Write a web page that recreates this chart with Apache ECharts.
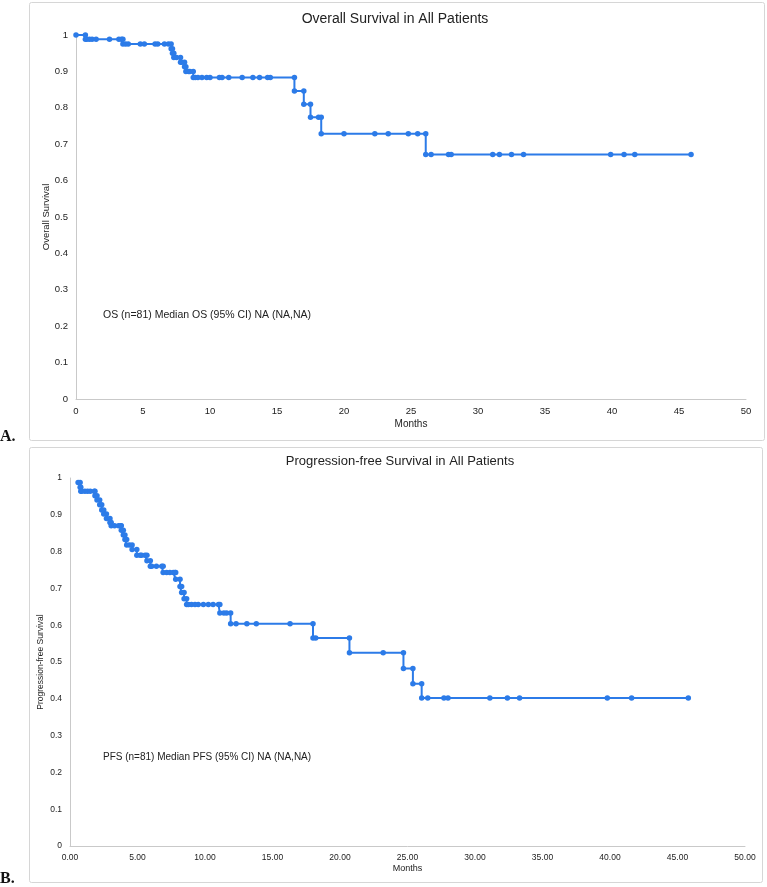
<!DOCTYPE html>
<html>
<head>
<meta charset="utf-8">
<script src="https://cdn.jsdelivr.net/npm/echarts@6/dist/echarts.min.js"></script>
<style>
html,body{margin:0;padding:0;background:#fff;}
#c{width:767px;height:887px;}
</style>
</head>
<body>
<div id="c"></div>
<script>
// ---- Overall survival (time in months, survival after that time) ----
const osTimes = [0, 0.7, 0.8, 1.0, 1.2, 1.5, 2.5, 3.2, 3.4, 3.5, 3.7, 3.9, 4.8, 5.1, 5.9, 6.1, 6.6, 6.9,
  7.1, 7.2, 7.3, 7.5, 7.8, 7.9, 8.1, 8.2, 8.4, 8.5, 8.75,
  8.9, 9.1, 9.4, 9.75, 10.0, 10.7, 10.9, 11.4, 12.4, 13.2, 13.7, 14.3, 14.5,
  16.3, 17.0, 17.5, 18.1, 18.3, 20.0, 22.3, 23.3, 24.8, 25.5,
  26.1, 26.5, 27.8, 28.0, 31.1, 31.6, 32.5, 33.4, 39.9, 40.9, 41.7, 45.9];
const osSurv = [1, 0.988, 0.988, 0.988, 0.988, 0.988, 0.988, 0.988, 0.988, 0.975, 0.975, 0.975, 0.975, 0.975, 0.975, 0.975, 0.975, 0.975,
  0.962, 0.950, 0.938, 0.938, 0.925, 0.925, 0.913, 0.900, 0.900, 0.900, 0.883,
  0.883, 0.883, 0.883, 0.883, 0.883, 0.883, 0.883, 0.883, 0.883, 0.883, 0.883, 0.883, 0.883,
  0.846, 0.810, 0.774, 0.774, 0.729, 0.729, 0.729, 0.729, 0.729, 0.729,
  0.672, 0.672, 0.672, 0.672, 0.672, 0.672, 0.672, 0.672, 0.672, 0.672, 0.672, 0.672];

// ---- Progression-free survival ----
const pfsTimes = [0.6, 0.75, 0.8, 0.87, 1.1, 1.3, 1.5, 1.8, 1.85, 2.0, 2.2, 2.35, 2.5, 2.7, 2.96,
  3.05, 3.3, 3.6, 3.76, 3.8, 3.95, 4.07, 4.2, 4.4, 4.6, 4.95, 5.2, 5.3, 5.56, 5.7, 5.95, 6.05, 6.4, 6.8,
  6.9, 7.16, 7.4, 7.65, 7.78, 7.83, 8.15, 8.27, 8.45, 8.64,
  8.77, 9.0, 9.26, 9.5, 9.88, 10.25, 10.6, 11.0, 11.1, 11.4, 11.6, 11.9, 12.3, 13.1, 13.8, 16.3,
  18.0, 18.2, 20.7, 23.2, 24.7, 25.4, 26.05, 26.5, 27.7, 28.0, 31.1, 32.4, 33.3, 39.8, 41.6, 45.8];
const pfsSurv = [0.988, 0.975, 0.964, 0.964, 0.964, 0.964, 0.964, 0.964, 0.952, 0.940, 0.927, 0.913, 0.902, 0.890, 0.879,
  0.870, 0.870, 0.870, 0.870, 0.858, 0.845, 0.833, 0.818, 0.818, 0.806, 0.790, 0.790, 0.790, 0.790, 0.775, 0.760, 0.760, 0.760, 0.760,
  0.743, 0.743, 0.743, 0.743, 0.743, 0.725, 0.705, 0.689, 0.672, 0.656,
  0.656, 0.656, 0.656, 0.656, 0.656, 0.656, 0.656, 0.656, 0.633, 0.633, 0.633, 0.604, 0.604, 0.604, 0.604, 0.604,
  0.565, 0.565, 0.525, 0.525, 0.482, 0.441, 0.402, 0.402, 0.402, 0.402, 0.402, 0.402, 0.402, 0.402, 0.402, 0.402];

const xTicksMax = 50, xInterval = 5;
const osTitle = 'Overall Survival in All Patients';
const pfsTitle = 'Progression-free Survival in All Patients';
const osNote = 'OS (n=81) Median OS (95% CI) NA (NA,NA)';
const pfsNote = 'PFS (n=81) Median PFS (95% CI) NA (NA,NA)';

// Build Kaplan-Meier step corners from the recorded points
function kmPoints(times, surv) {
  const pts = [];
  for (let i = 0; i < times.length; i++) {
    if (i > 0 && surv[i] !== surv[i - 1]) pts.push([times[i], surv[i - 1]]);
    pts.push([times[i], surv[i]]);
  }
  return pts;
}

const blue = '#2c7be8';
const font = 'Liberation Sans, Arial, sans-serif';
const axisLine = {show: true, lineStyle: {color: '#c9c9c9', width: 1}};

function xAxis(grid, fs, fmt, gap) {
  return {
    type: 'value', gridIndex: grid, min: 0, max: xTicksMax, interval: xInterval,
    axisLine: axisLine, axisTick: {show: false}, splitLine: {show: false},
    axisLabel: {fontSize: fs, color: '#222', fontFamily: font, margin: 7, formatter: fmt},
    name: 'Months', nameLocation: 'middle', nameGap: gap, nameMoveOverlap: false,
    nameTextStyle: {fontSize: fs + 0.5, color: '#222', fontFamily: font}
  };
}
function yAxis(grid, fs, name, gap) {
  return {
    type: 'value', gridIndex: grid, min: 0, max: 1, interval: 0.1,
    axisLine: axisLine, axisTick: {show: false}, splitLine: {show: false},
    axisLabel: {fontSize: fs, color: '#222', fontFamily: font, margin: 8},
    name: name, nameLocation: 'middle', nameGap: gap, nameMoveOverlap: false,
    nameTextStyle: {fontSize: fs, color: '#222', fontFamily: font}
  };
}

const chart = echarts.init(document.getElementById('c'), null, {renderer: 'canvas'});
chart.setOption({
  animation: false,
  backgroundColor: '#fff',
  grid: [
    {left: 76, top: 35, width: 670, height: 364},
    {left: 70, top: 478, width: 675, height: 368}
  ],
  xAxis: [
    xAxis(0, 9.5, v => String(v), 20),
    xAxis(1, 8.5, v => v.toFixed(2), 18)
  ],
  yAxis: [
    yAxis(0, 9.5, 'Overall Survival', 25),
    yAxis(1, 8.5, 'Progression-free Survival', 25)
  ],
  series: [
    {type: 'line', xAxisIndex: 0, yAxisIndex: 0, data: kmPoints(osTimes, osSurv),
     symbol: 'circle', symbolSize: 5.5, showAllSymbol: true, color: blue,
     lineStyle: {color: blue, width: 2}, itemStyle: {color: blue}},
    {type: 'line', xAxisIndex: 1, yAxisIndex: 1, data: kmPoints(pfsTimes, pfsSurv),
     symbol: 'circle', symbolSize: 5.5, showAllSymbol: true, color: blue,
     lineStyle: {color: blue, width: 2}, itemStyle: {color: blue}}
  ],
  graphic: [
    {type: 'rect', shape: {x: 29.5, y: 2.5, width: 735, height: 438, r: 2},
     style: {fill: 'none', stroke: '#d6d6d6', lineWidth: 1}, z: -1},
    {type: 'rect', shape: {x: 29.5, y: 447.5, width: 733, height: 435, r: 2},
     style: {fill: 'none', stroke: '#d6d6d6', lineWidth: 1}, z: -1},
    {type: 'text', x: 395, y: 19, style: {text: osTitle, font: '14px ' + font, fill: '#222', textAlign: 'center', textVerticalAlign: 'middle'}},
    {type: 'text', x: 400, y: 461, style: {text: pfsTitle, font: '13px ' + font, fill: '#222', textAlign: 'center', textVerticalAlign: 'middle'}},
    {type: 'text', x: 103, y: 315, style: {text: osNote, font: '10.5px ' + font, fill: '#222', textAlign: 'left', textVerticalAlign: 'middle'}},
    {type: 'text', x: 103, y: 757, style: {text: pfsNote, font: '10px ' + font, fill: '#222', textAlign: 'left', textVerticalAlign: 'middle'}},
    {type: 'text', x: 0, y: 437, style: {text: 'A.', font: 'bold 16px Liberation Serif, serif', fill: '#111', textAlign: 'left', textVerticalAlign: 'middle'}},
    {type: 'text', x: 0, y: 879, style: {text: 'B.', font: 'bold 16px Liberation Serif, serif', fill: '#111', textAlign: 'left', textVerticalAlign: 'middle'}}
  ]
});
</script>
</body>
</html>
